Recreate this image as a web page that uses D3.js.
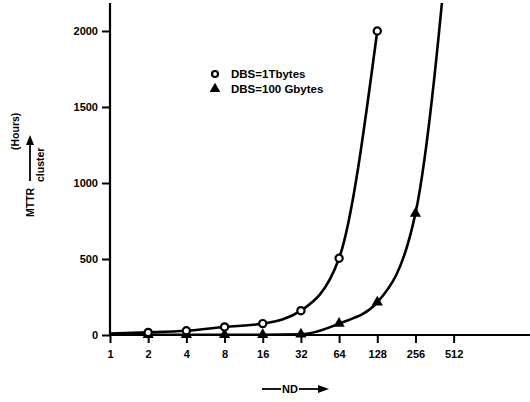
<!DOCTYPE html>
<html><head><meta charset="utf-8">
<script src="https://cdn.jsdelivr.net/npm/d3@7"></script>
<style>
html,body{margin:0;padding:0;background:#fff;}
svg{display:block;font-family:"Liberation Sans",Arial,Helvetica,sans-serif;font-weight:bold;}
</style></head>
<body>
<svg id="chart" width="530" height="402"></svg>
<script>
// ---- data ----
const ndTicks = [1, 2, 4, 8, 16, 32, 64, 128, 256, 512];
const yTicks = [0, 500, 1000, 1500, 2000];
// DBS = 1 Tbytes (open circles)
const tbND = [1, 2, 4, 8, 16, 32, 64, 128];
const tbMTTR = [10, 17, 28, 53, 75, 160, 505, 2000];
const tbMarked = [false, true, true, true, true, true, true, true];
// DBS = 100 Gbytes (filled triangles); last point continues curve off the top
const gbND = [1, 2, 4, 8, 16, 32, 64, 128, 256, 512];
const gbMTTR = [2, 2, 2, 2, 2, 5, 75, 215, 800, 3000];
const gbMarked = [false, true, true, true, true, true, true, true, true, false];
const legendLabels = ["DBS=1Tbytes", "DBS=100 Gbytes"];

const svg = d3.select("#chart");
const x = d3.scaleLog().base(2).domain([1, 2048]).range([110, 530]);
const y = d3.scaleLinear().domain([0, 2184]).range([335, 3]);

svg.append("defs").append("clipPath").attr("id", "clip")
  .append("rect").attr("x", 110).attr("y", 3).attr("width", 420).attr("height", 340);

// axes
const xAxis = d3.axisBottom(x).tickValues(ndTicks).tickFormat(d => d).tickSize(8).tickPadding(7);
const gx = svg.append("g").attr("transform", "translate(0,335)").call(xAxis);
gx.select(".domain").attr("stroke-width", 2.2).attr("d", "M110,0H530");
gx.selectAll(".tick line").attr("stroke-width", 2);
gx.selectAll(".tick text").attr("font-size", 11).attr("font-weight", "bold").attr("font-family", "Liberation Sans, Arial, sans-serif");

const yAxis = d3.axisLeft(y).tickValues(yTicks).tickFormat(d => d).tickSize(8).tickPadding(4);
const gy = svg.append("g").attr("transform", "translate(110,0)").call(yAxis);
gy.select(".domain").attr("stroke-width", 2.2).attr("d", "M0,3V335");
gy.selectAll(".tick line").attr("stroke-width", 2);
gy.selectAll(".tick text").attr("font-size", 11).attr("font-weight", "bold").attr("font-family", "Liberation Sans, Arial, sans-serif");

// lines
const line = d3.line().x(d => x(d[0])).y(d => y(d[1])).curve(d3.curveMonotoneX);
const tbData = tbND.map((n, i) => [n, tbMTTR[i], tbMarked[i]]);
const gbData = gbND.map((n, i) => [n, gbMTTR[i], gbMarked[i]]);
const plot = svg.append("g").attr("clip-path", "url(#clip)");
plot.append("path").datum(gbData).attr("d", line).attr("fill", "none").attr("stroke", "#000").attr("stroke-width", 2.6);
plot.append("path").datum(tbData).attr("d", line).attr("fill", "none").attr("stroke", "#000").attr("stroke-width", 2.6);

const tri = d3.symbol().type(d3.symbolTriangle).size(55);
svg.append("g").selectAll("path").data(gbData.filter(d => d[2])).join("path")
  .attr("d", tri).attr("transform", d => `translate(${x(d[0])},${y(d[1])})`).attr("fill", "#000");
svg.append("g").selectAll("circle").data(tbData.filter(d => d[2])).join("circle")
  .attr("cx", d => x(d[0])).attr("cy", d => y(d[1])).attr("r", 3.6)
  .attr("fill", "#fff").attr("stroke", "#000").attr("stroke-width", 2.2);

// legend
const lg = svg.append("g").attr("font-size", 11.5);
lg.append("circle").attr("cx", 215).attr("cy", 74).attr("r", 3).attr("fill", "#fff").attr("stroke", "#000").attr("stroke-width", 2.2);
lg.append("path").attr("d", d3.symbol().type(d3.symbolTriangle).size(50)).attr("transform", "translate(215,89)").attr("fill", "#000");
lg.append("text").attr("x", 231).attr("y", 78).text(legendLabels[0]);
lg.append("text").attr("x", 231).attr("y", 93).text(legendLabels[1]);

// y axis label (rotated)
const yl = svg.append("g").attr("transform", "translate(30,217) rotate(-90)").attr("font-size", 10.5);
yl.append("text").attr("x", 0).attr("y", 4).text("MTTR");
yl.append("line").attr("x1", 36).attr("x2", 74).attr("y1", 0).attr("y2", 0).attr("stroke", "#000").attr("stroke-width", 1.8);
yl.append("path").attr("d", "M72,-4L82,0L72,4Z").attr("fill", "#000");
yl.append("text").attr("x", 35).attr("y", 14).text("cluster");
yl.append("text").attr("x", 67).attr("y", -11).text("(Hours)");

// x axis label
const xl = svg.append("g").attr("font-size", 11);
xl.append("line").attr("x1", 262).attr("x2", 281).attr("y1", 389).attr("y2", 389).attr("stroke", "#000").attr("stroke-width", 1.8);
xl.append("text").attr("x", 282).attr("y", 393).text("ND");
xl.append("line").attr("x1", 299).attr("x2", 320).attr("y1", 389).attr("y2", 389).attr("stroke", "#000").attr("stroke-width", 1.8);
xl.append("path").attr("d", "M318,385L329,389L318,393Z").attr("fill", "#000");
</script>
</body></html>
